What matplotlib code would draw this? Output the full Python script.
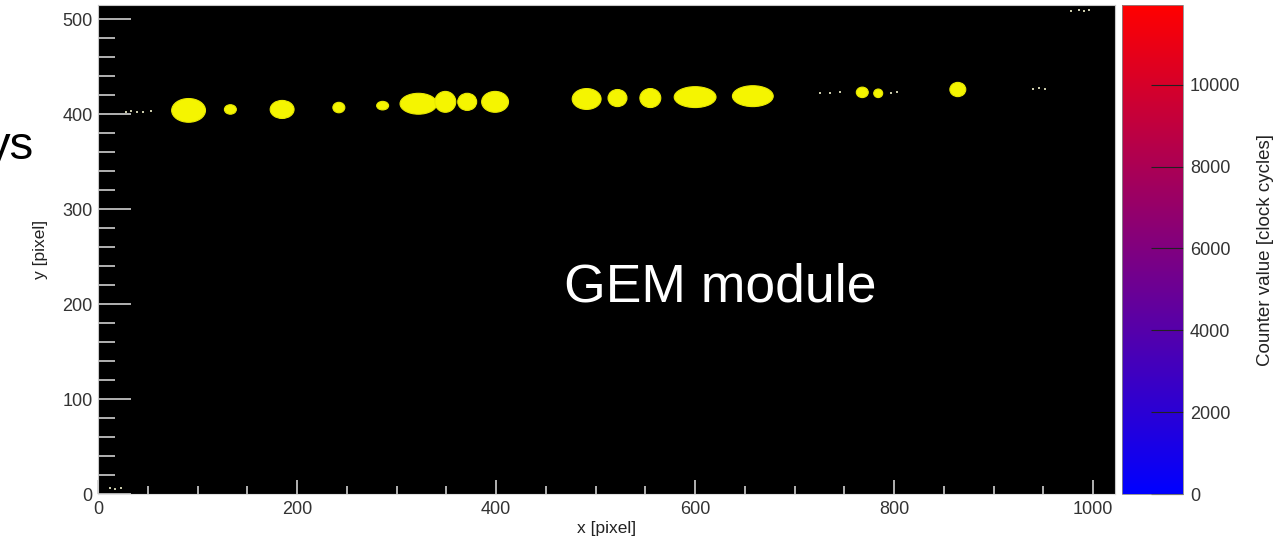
import matplotlib
matplotlib.use("Agg")
import matplotlib.pyplot as plt
from matplotlib.patches import Ellipse
from matplotlib.colors import LinearSegmentedColormap, Normalize
from matplotlib.cm import ScalarMappable
from matplotlib.ticker import MultipleLocator

plt.rcParams['font.family'] = ['Liberation Sans', 'DejaVu Sans']

# cluster blobs (centre x, centre y, width, height in pixels)
blob_x = [91, 133, 185, 242, 286, 322, 349, 371, 399, 491, 522, 555, 600, 658, 768, 784, 864]
blob_y = [404, 405, 405, 407, 409, 411, 413, 413, 413, 416, 417, 417, 418, 419, 423, 422, 426]
blob_w = [34, 12, 24, 12, 12, 37, 21, 19, 27, 29, 19, 21, 42, 41, 12, 9, 16]
blob_h = [25, 10, 19, 11, 9, 22, 22, 18, 22, 22, 18, 20, 22, 22, 11, 9, 15]

# isolated single hits
noise_x = [28, 33, 39, 45, 53, 726, 736, 746, 797, 803, 940, 946, 952, 978, 986, 991, 996, 12, 17, 23]
noise_y = [402, 403, 402, 402, 403, 422, 422, 423, 422, 423, 427, 428, 427, 509, 510, 509, 510, 6, 5, 6]

cbar_ticks = [0, 2000, 4000, 6000, 8000, 10000]
cbar_max = 11950

fig = plt.figure(figsize=(12.78, 5.43), dpi=100)
ax = fig.add_axes([0.0767, 0.0902, 0.7958, 0.9006])
ax.set_facecolor('black')

for x, y, w, h in zip(blob_x, blob_y, blob_w, blob_h):
    ax.add_patch(Ellipse((x, y), w, h, facecolor='#f5f500', edgecolor='#e8e800', lw=0.8))
ax.scatter(noise_x, noise_y, s=2, color='#c8c8a8', marker='s', linewidths=0)

ax.set_xlim(0, 1022)
ax.set_ylim(0, 515)
ax.xaxis.set_major_locator(MultipleLocator(200))
ax.xaxis.set_minor_locator(MultipleLocator(50))
ax.yaxis.set_major_locator(MultipleLocator(100))
ax.yaxis.set_minor_locator(MultipleLocator(20))
ax.tick_params(which='both', direction='in', color='#d0d0d0', labelsize=13, labelcolor='#333333',
               top=False, right=False)
ax.tick_params(axis='y', which='major', length=24, width=1.2, pad=4)
ax.tick_params(axis='y', which='minor', length=12, width=1.2)
ax.tick_params(axis='x', which='major', length=10, width=1.2, pad=5)
ax.tick_params(axis='x', which='minor', length=6, width=1.2)
for s in ax.spines.values():
    s.set_color('#c8c8c8')
ax.spines['bottom'].set_color('#e0e0e0')

ax.set_xlabel('x [pixel]', fontsize=12.5, color='#222222', labelpad=2)
ax.set_ylabel('y [pixel]', fontsize=12.5, color='#222222', labelpad=10)

ax.text(0.612, 0.423, 'GEM module', transform=ax.transAxes, color='white', fontsize=38.5,
        ha='center', va='center')

cax = fig.add_axes([0.878, 0.0902, 0.0477, 0.9006])
cmap = LinearSegmentedColormap.from_list('br', ['#0000ff', '#ff0000'])
sm = ScalarMappable(norm=Normalize(0, cbar_max), cmap=cmap)
cb = fig.colorbar(sm, cax=cax, ticks=cbar_ticks)
cb.outline.set_edgecolor('#888888')
cb.outline.set_linewidth(0.6)
cax.tick_params(direction='in', length=23, width=0.8, color='#222222', labelsize=13,
                labelcolor='#333333', pad=5)
cb.set_label('Counter value [clock cycles]', fontsize=13.5, color='#222222', labelpad=12)

fig.text(0.027, 0.73, 'ys', fontsize=34, color='black', ha='right', va='center')

fig.savefig('out.png', dpi=100)
